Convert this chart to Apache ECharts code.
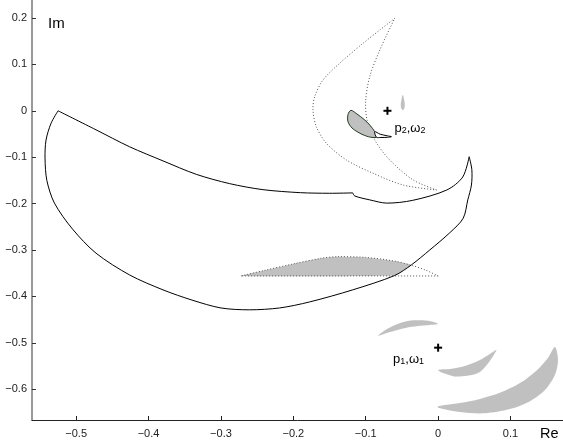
<!DOCTYPE html>
<html>
<head>
<meta charset="utf-8">
<script src="https://cdn.jsdelivr.net/npm/echarts@6/dist/echarts.min.js"></script>
<style>
html,body{margin:0;padding:0;background:#fff}
#main{width:563px;height:448px}
</style>
</head>
<body>
<div id="main"></div>
<script>
// tick labels
var xTicks = [-0.5, -0.4, -0.3, -0.2, -0.1, 0, 0.1];
var yTicks = [0.2, 0.1, 0, -0.1, -0.2, -0.3, -0.4, -0.5, -0.6];

// big solid contour (three pieces, split at the corners)
var bigTop = [[-0.525,0],[-0.4726,-0.041],[-0.4264,-0.0774],[-0.380,-0.108],[-0.334,-0.137],[-0.288,-0.157],[-0.242,-0.170],[-0.19,-0.1765],[-0.15,-0.1778],[-0.118,-0.177]];
var bigNotch = [[-0.118,-0.177],[-0.1152,-0.1836],[-0.0945,-0.192],[-0.071,-0.199],[-0.035,-0.193],[0.012,-0.1707],[0.034,-0.1427],[0.0429,-0.099]];
var bigOuter = [[0.0429,-0.099],[0.0466,-0.127],[0.046,-0.160],[0.041,-0.192],[0.0346,-0.2317],[0.016,-0.263],[-0.0115,-0.300],[-0.0368,-0.332],[-0.060,-0.355],[-0.118,-0.386],[-0.1775,-0.412],[-0.219,-0.425],[-0.2605,-0.429],[-0.30,-0.425],[-0.340,-0.408],[-0.380,-0.386],[-0.426,-0.354],[-0.4725,-0.307],[-0.505,-0.255],[-0.530,-0.199],[-0.5405,-0.15],[-0.543,-0.102],[-0.5416,-0.063],[-0.5347,-0.027],[-0.525,0]];

// dotted crescent around p2
var p2Outer = [[-0.0599,0.1994],[-0.0806,0.174],[-0.1037,0.1455],[-0.136,0.1024],[-0.159,0.0664],[-0.1705,0.0304],[-0.1729,0.0017],[-0.1682,-0.0343],[-0.1544,-0.070],[-0.1267,-0.106],[-0.0899,-0.1347],[-0.0484,-0.160],[-0.0022,-0.1707]];
var p2Inner = [[-0.0022,-0.1707],[-0.0346,-0.149],[-0.0668,-0.106],[-0.0876,-0.063],[-0.0982,-0.0198],[-0.100,0.0233],[-0.0945,0.0735],[-0.0806,0.131],[-0.0599,0.1994]];

// lens below the contour
var lensTop = [[-0.272,-0.356],[-0.24,-0.344],[-0.2,-0.330],[-0.16,-0.3175],[-0.14,-0.3145],[-0.1,-0.316],[-0.06,-0.324],[-0.037,-0.333],[-0.018,-0.343],[0,-0.356]];
var lensBase = [[0,-0.356],[-0.272,-0.356]];
var lensFill = [[-0.272,-0.356],[-0.24,-0.344],[-0.2,-0.330],[-0.16,-0.3175],[-0.14,-0.3145],[-0.1,-0.316],[-0.06,-0.324],[-0.037,-0.333],[-0.048,-0.344],[-0.060,-0.355]];

// small shapes near p2
var leaf = [[-0.1205,0.001],[-0.112,-0.007],[-0.102,-0.019],[-0.0945,-0.0306],[-0.0876,-0.045],[-0.0852,-0.057],[-0.096,-0.056],[-0.108,-0.0485],[-0.119,-0.037],[-0.1245,-0.0235],[-0.1245,-0.008]];
var leafTail = [[-0.0876,-0.045],[-0.080,-0.0505],[-0.070,-0.054],[-0.0645,-0.0558],[-0.070,-0.0572],[-0.079,-0.0575],[-0.0852,-0.057]];
var drop = [[-0.0488,0.034],[-0.0468,0.022],[-0.046,0.011],[-0.0472,0.004],[-0.0488,0.0015],[-0.0504,0.004],[-0.0516,0.011],[-0.0508,0.022]];

// gray crescents near p1
var crescA = [[-0.083,-0.485],[-0.07,-0.470],[-0.055,-0.459],[-0.04,-0.4525],[-0.025,-0.4515],[-0.01,-0.4535],[0,-0.4595],[-0.012,-0.4615],[-0.028,-0.464],[-0.045,-0.468],[-0.06,-0.474],[-0.073,-0.480]];
var crescB = [[0,-0.5586],[0.016,-0.5565],[0.037,-0.550],[0.0577,-0.537],[0.0715,-0.524],[0.0808,-0.5155],[0.0577,-0.563],[0.0254,-0.573],[0.008,-0.566]];
var crescC = [[0,-0.637],[0.030,-0.630],[0.0577,-0.621],[0.0853,-0.608],[0.113,-0.587],[0.1365,-0.559],[0.1517,-0.5326],[0.1614,-0.509],[0.1656,-0.537],[0.1614,-0.569],[0.1476,-0.602],[0.127,-0.626],[0.0991,-0.643],[0.0646,-0.652],[0.030,-0.6495],[0,-0.640]];

// poles
var poles = [[-0.07, 0], [0, -0.5106]];
var poleLabels = ['{a|p}{b|2}{a|,ω}{b|2}', '{a|p}{b|1}{a|,ω}{b|1}'];

var FONT = 'Liberation Sans, Arial, Helvetica, sans-serif';
var GRAY = '#c0c0c0';

function shape(pts, kind, style, smooth) {
    return {
        type: 'custom',
        coordinateSystem: 'cartesian2d',
        data: pts,
        encode: { x: 0, y: 1 },
        silent: true,
        renderItem: function (params, api) {
            if (params.dataIndex !== 0) return;
            var p = pts.map(function (d) { return api.coord(d); });
            return {
                type: kind,
                shape: { points: p, smooth: smooth || 0 },
                style: style
            };
        }
    };
}

var solid = { fill: null, stroke: '#000', lineWidth: 1 };
var dotted = { fill: null, stroke: '#555', lineWidth: 1, lineDash: [1, 2] };

var chart = echarts.init(document.getElementById('main'));
chart.setOption({
    animation: false,
    backgroundColor: '#fff',
    grid: { left: 32, right: 0, top: 0, bottom: 28, outerBoundsMode: 'none' },
    xAxis: {
        type: 'value',
        min: -0.561,
        max: 0.1725,
        axisLine: { onZero: false, lineStyle: { color: '#222', width: 1 } },
        axisTick: { inside: true, length: 4, customValues: xTicks, lineStyle: { color: '#222' } },
        axisLabel: {
            customValues: xTicks, margin: 8, fontSize: 11, color: '#222', fontFamily: FONT,
            formatter: function (v) { return v < 0 ? '\u2212' + Math.abs(v) : String(v); }
        },
        splitLine: { show: false }
    },
    yAxis: {
        type: 'value',
        min: -0.6665,
        max: 0.2388,
        axisLine: { show: true, onZero: false, lineStyle: { color: '#777', width: 1.5 } },
        axisTick: { show: true, inside: true, length: 4, customValues: yTicks, lineStyle: { color: '#333' } },
        axisLabel: {
            customValues: yTicks, margin: 5, fontSize: 11, color: '#222', fontFamily: FONT,
            formatter: function (v) { return v < 0 ? '\u2212' + Math.abs(v) : String(v); }
        },
        splitLine: { show: false }
    },
    graphic: [
        { type: 'text', left: 48, top: 16, style: { text: 'Im', fontSize: 15, fill: '#000', fontFamily: FONT } },
        { type: 'text', left: 540, top: 426, style: { text: 'Re', fontSize: 14.5, fill: '#000', fontFamily: FONT } }
    ],
    series: [
        shape(crescA, 'polygon', { fill: GRAY }, 0.3),
        shape(crescB, 'polygon', { fill: GRAY }, 0.3),
        shape(crescC, 'polygon', { fill: GRAY }, 0.3),
        shape(lensFill, 'polygon', { fill: GRAY }, 0.15),
        shape(lensTop, 'polyline', dotted, 0.3),
        shape(lensBase, 'polyline', dotted, 0),
        shape(p2Outer, 'polyline', dotted, 0.3),
        shape(p2Inner, 'polyline', dotted, 0.3),
        shape(bigTop, 'polyline', solid, 0.3),
        shape(bigNotch, 'polyline', solid, 0.3),
        shape(bigOuter, 'polyline', solid, 0.3),
        shape(drop, 'polygon', { fill: GRAY }, 0.4),
        shape(leaf, 'polygon', { fill: GRAY, stroke: '#1e3a1e', lineWidth: 1 }, 0.3),
        shape(leafTail, 'polygon', { fill: '#fff', stroke: '#000', lineWidth: 1 }, 0.3),
        {
            type: 'custom',
            coordinateSystem: 'cartesian2d',
            data: poles,
            encode: { x: 0, y: 1 },
            silent: true,
            renderItem: function (params, api) {
                var c = api.coord([api.value(0), api.value(1)]);
                var i = params.dataIndex;
                var rich = {
                    a: { fontSize: 13, fontFamily: FONT, fill: '#000', lineHeight: 20, verticalAlign: 'bottom' },
                    b: { fontSize: 9, fontFamily: FONT, fill: '#000', lineHeight: 9, verticalAlign: 'bottom' }
                };
                var label = i === 0
                    ? { x: c[0] + 7, y: c[1] + 24, align: 'left' }
                    : { x: c[0] - 14, y: c[1] + 18, align: 'right' };
                return {
                    type: 'group',
                    children: [
                        { type: 'line', shape: { x1: c[0] - 4, y1: c[1], x2: c[0] + 4, y2: c[1] }, style: { stroke: '#000', lineWidth: 2 } },
                        { type: 'line', shape: { x1: c[0], y1: c[1] - 4, x2: c[0], y2: c[1] + 4 }, style: { stroke: '#000', lineWidth: 2 } },
                        { type: 'text', style: { text: poleLabels[i], rich: rich, x: label.x, y: label.y, align: label.align, verticalAlign: 'bottom' } }
                    ]
                };
            }
        }
    ]
});
</script>
</body>
</html>
